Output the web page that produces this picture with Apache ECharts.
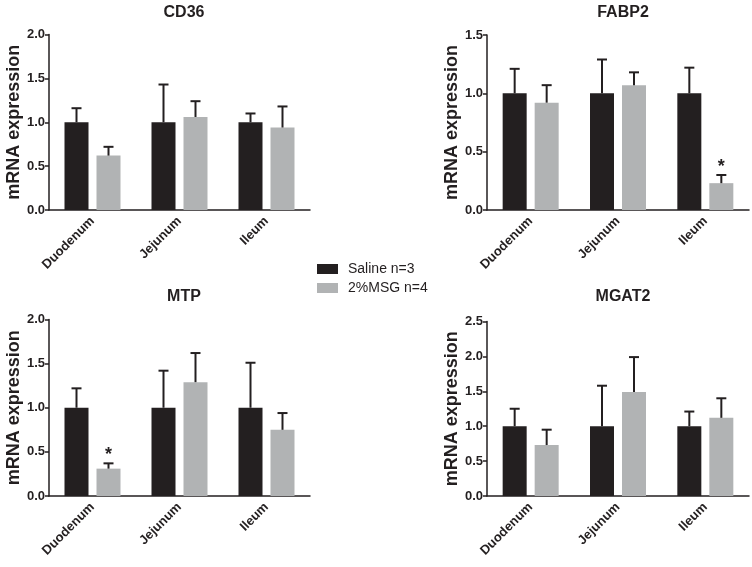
<!DOCTYPE html>
<html>
<head>
<meta charset="utf-8">
<script src="https://cdn.jsdelivr.net/npm/echarts@6/dist/echarts.min.js"></script>
<style>
html,body{margin:0;padding:0;background:#fff;}
#chart{width:752px;height:567px;}
</style>
</head>
<body>
<div id="chart"></div>
<script>
// ---- data ----
const categories = ['Duodenum', 'Jejunum', 'Ileum'];
const seriesNames = ['Saline n=3', '2%MSG n=4'];
const panelTitles = ['CD36', 'FABP2', 'MTP', 'MGAT2'];
const yAxisName = 'mRNA expression';
const yMax = [2.0, 1.5, 2.0, 2.5];
const yInterval = 0.5;

const cd36Saline = [1.00, 1.00, 1.00];
const cd36SalineErr = [0.16, 0.43, 0.10];
const cd36Msg = [0.62, 1.06, 0.94];
const cd36MsgErr = [0.10, 0.18, 0.24];
const cd36MsgSig = [false, false, false];

const fabp2Saline = [1.00, 1.00, 1.00];
const fabp2SalineErr = [0.21, 0.29, 0.22];
const fabp2Msg = [0.92, 1.07, 0.23];
const fabp2MsgErr = [0.15, 0.11, 0.07];
const fabp2MsgSig = [false, false, true];

const mtpSaline = [1.00, 1.00, 1.00];
const mtpSalineErr = [0.22, 0.42, 0.51];
const mtpMsg = [0.31, 1.29, 0.75];
const mtpMsgErr = [0.06, 0.33, 0.19];
const mtpMsgSig = [true, false, false];

const mgat2Saline = [1.00, 1.00, 1.00];
const mgat2SalineErr = [0.25, 0.58, 0.21];
const mgat2Msg = [0.73, 1.49, 1.12];
const mgat2MsgErr = [0.22, 0.50, 0.28];
const mgat2MsgSig = [false, false, false];

const panels = [
  {saline: cd36Saline, salineErr: cd36SalineErr, msg: cd36Msg, msgErr: cd36MsgErr, sig: cd36MsgSig},
  {saline: fabp2Saline, salineErr: fabp2SalineErr, msg: fabp2Msg, msgErr: fabp2MsgErr, sig: fabp2MsgSig},
  {saline: mtpSaline, salineErr: mtpSalineErr, msg: mtpMsg, msgErr: mtpMsgErr, sig: mtpMsgSig},
  {saline: mgat2Saline, salineErr: mgat2SalineErr, msg: mgat2Msg, msgErr: mgat2MsgErr, sig: mgat2MsgSig}
];

// ---- style / layout ----
const FONT = '"Liberation Sans", Arial, sans-serif';
const BLACK = '#231f20';
const GRAY = '#b1b3b4';
const BAR_W = 24;
const BAR_GAP_PX = 8;
const CAP_W = 10;
const grids = [
  {left: 49, top: 34.5, width: 261, height: 175.5},
  {left: 487, top: 35, width: 262, height: 175},
  {left: 49, top: 319.5, width: 261, height: 176.5},
  {left: 487, top: 321.5, width: 262, height: 174.5}
];
const titlePos = [
  {x: 179, y: 0}, {x: 618, y: 0}, {x: 179, y: 284}, {x: 618, y: 284}
];

function errRender(side) {
  return function (params, api) {
    const idx = api.value(0);
    const mean = api.value(1);
    const err = api.value(2);
    const sig = api.value(3);
    const base = api.coord([idx, mean]);
    const top = api.coord([idx, mean + err]);
    const off = side * (BAR_W + BAR_GAP_PX) / 2;
    const x = base[0] + off;
    const children = [
      {type: 'line', shape: {x1: x, y1: base[1], x2: x, y2: top[1]},
       style: {stroke: BLACK, lineWidth: 2}},
      {type: 'line', shape: {x1: x - CAP_W / 2, y1: top[1], x2: x + CAP_W / 2, y2: top[1]},
       style: {stroke: BLACK, lineWidth: 2}}
    ];
    if (sig) {
      children.push({type: 'text', style: {text: '*', x: x, y: top[1] + 1,
        align: 'center', verticalAlign: 'bottom',
        font: 'bold 18px ' + FONT, fill: BLACK}});
    }
    return {type: 'group', children: children};
  };
}

const option = {
  animation: false,
  backgroundColor: '#ffffff',
  title: panelTitles.map((t, i) => ({
    text: t, left: titlePos[i].x, top: titlePos[i].y, textAlign: 'center',
    textStyle: {fontFamily: FONT, fontSize: 16, fontWeight: 'bold', color: BLACK}
  })),
  legend: {
    data: seriesNames, orient: 'vertical', left: 312, top: 257,
    itemWidth: 21, itemHeight: 10, itemGap: 5, icon: 'rect',
    textStyle: {fontFamily: FONT, fontSize: 14, color: BLACK, padding: [0, 0, 0, 5]}
  },
  grid: grids,
  xAxis: grids.map((g, i) => ({
    type: 'category', gridIndex: i, data: categories,
    axisLine: {lineStyle: {color: BLACK, width: 1.5}},
    axisTick: {alignWithLabel: true, length: 5, lineStyle: {color: BLACK, width: 1.5}},
    axisLabel: {rotate: 45, margin: 9, fontFamily: FONT, fontSize: 13, fontWeight: 'bold', color: BLACK}
  })),
  yAxis: grids.map((g, i) => ({
    type: 'value', gridIndex: i, min: 0, max: yMax[i], interval: yInterval,
    name: yAxisName, nameLocation: 'middle', nameGap: 25,
    nameTextStyle: {fontFamily: FONT, fontSize: 18, fontWeight: 'bold', color: BLACK},
    splitLine: {show: false},
    axisLine: {show: true, lineStyle: {color: BLACK, width: 1.5}},
    axisTick: {show: true, length: 4, lineStyle: {color: BLACK, width: 1.5}},
    axisLabel: {margin: 4, fontFamily: FONT, fontSize: 13, fontWeight: 'bold', color: BLACK,
      formatter: v => v.toFixed(1)}
  })),
  series: []
};

panels.forEach((p, i) => {
  option.series.push({
    name: seriesNames[0], type: 'bar', xAxisIndex: i, yAxisIndex: i,
    data: p.saline, barWidth: BAR_W, barGap: (BAR_GAP_PX / BAR_W * 100) + '%',
    itemStyle: {color: BLACK}
  });
  option.series.push({
    name: seriesNames[1], type: 'bar', xAxisIndex: i, yAxisIndex: i,
    data: p.msg, barWidth: BAR_W, barGap: (BAR_GAP_PX / BAR_W * 100) + '%',
    itemStyle: {color: GRAY}
  });
  option.series.push({
    name: 'err-saline-' + i, type: 'custom', xAxisIndex: i, yAxisIndex: i, z: 5,
    renderItem: errRender(-1), clip: false,
    data: p.saline.map((v, k) => [k, v, p.salineErr[k], 0])
  });
  option.series.push({
    name: 'err-msg-' + i, type: 'custom', xAxisIndex: i, yAxisIndex: i, z: 5,
    renderItem: errRender(1), clip: false,
    data: p.msg.map((v, k) => [k, v, p.msgErr[k], p.sig[k] ? 1 : 0])
  });
});

const chart = echarts.init(document.getElementById('chart'), null, {renderer: 'canvas'});
chart.setOption(option);
</script>
</body>
</html>
